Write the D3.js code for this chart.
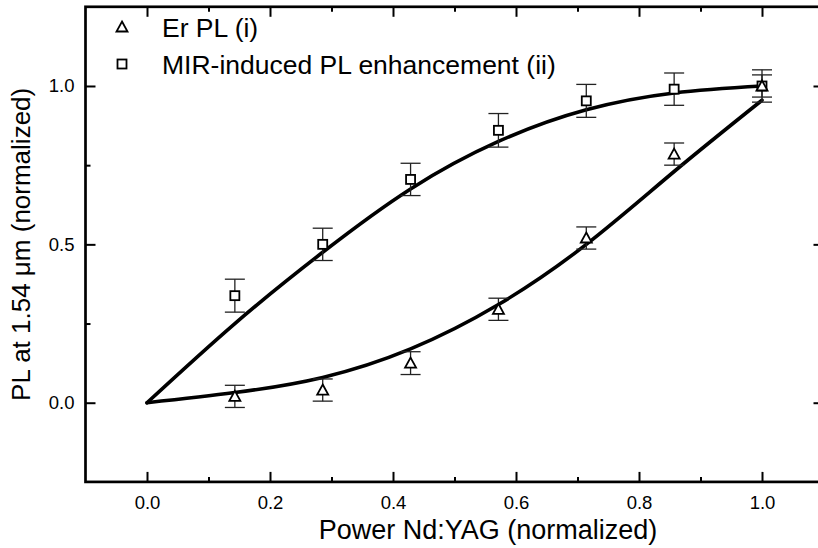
<!DOCTYPE html>
<html><head><meta charset="utf-8">
<script src="https://cdn.jsdelivr.net/npm/d3@7"></script>
<style>body{margin:0;background:#fff} svg text{font-family:"Liberation Sans",Arial,sans-serif;fill:#000}</style>
</head><body><svg id="c" width="818" height="548"></svg>
<script>
// ---- data ----
const powerX = [1/7, 2/7, 3/7, 4/7, 5/7, 6/7, 1.0];
const erPL = [0.02, 0.04, 0.125, 0.295, 0.52, 0.785, 1.0];
const erPLErr = [0.035, 0.035, 0.036, 0.035, 0.035, 0.035, 0.035];
const mirPL = [0.338, 0.50, 0.705, 0.86, 0.953, 0.99, 1.0];
const mirPLErr = [0.052, 0.051, 0.051, 0.053, 0.052, 0.051, 0.051];
const fitX = [0, 1/7, 2/7, 3/7, 4/7, 5/7, 6/7, 1.0];
const erFit = [0, 0.032, 0.08, 0.17, 0.31, 0.5, 0.73, 0.955];
const mirFit = [0, 0.25, 0.475, 0.675, 0.825, 0.925, 0.978, 1.0];
const xTicks = [0, 0.2, 0.4, 0.6, 0.8, 1.0];
const xMinorTicks = [0.1, 0.3, 0.5, 0.7, 0.9];
const yTicks = [0, 0.5, 1.0];
const yMinorTicks = [0.25, 0.75];
const legendLabels = ["Er PL (i)", "MIR-induced PL enhancement (ii)"];
const xTitle = "Power Nd:YAG (normalized)";
const yTitle = "PL at 1.54 \u03bcm (normalized)";

// ---- layout ----
const svg = d3.select("#c");
const L = 85.5, R = 823.5, T = 6.8, B = 481.9;
const x = d3.scaleLinear().domain([-0.1, 1.1]).range([L, R]);
const y = d3.scaleLinear().domain([-0.25, 1.25]).range([B, T]);
const fmt = d3.format(".1f");

function styleAxis(g){
  g.select(".domain").remove();
  g.selectAll("line").attr("stroke","#000").attr("stroke-width",2);
}
svg.append("g").attr("transform",`translate(0,${B})`)
  .call(d3.axisBottom(x).tickValues(xTicks).tickSize(-10).tickPadding(14).tickFormat(fmt))
  .call(styleAxis).call(g=>g.selectAll("text").attr("font-size",18.5));
svg.append("g").attr("transform",`translate(0,${B})`)
  .call(d3.axisBottom(x).tickValues(xMinorTicks).tickSize(-5).tickFormat(""))
  .call(styleAxis);
svg.append("g").attr("transform",`translate(0,${T})`)
  .call(d3.axisTop(x).tickValues(xTicks).tickSize(-10).tickFormat(""))
  .call(styleAxis);
svg.append("g").attr("transform",`translate(0,${T})`)
  .call(d3.axisTop(x).tickValues(xMinorTicks).tickSize(-5).tickFormat(""))
  .call(styleAxis);
svg.append("g").attr("transform",`translate(${L},0)`)
  .call(d3.axisLeft(y).tickValues(yTicks).tickSize(-10).tickPadding(11).tickFormat(fmt))
  .call(styleAxis).call(g=>g.selectAll("text").attr("font-size",18.5));
svg.append("g").attr("transform",`translate(${L},0)`)
  .call(d3.axisLeft(y).tickValues(yMinorTicks).tickSize(-5).tickFormat(""))
  .call(styleAxis);
svg.append("g").attr("transform",`translate(${R},0)`)
  .call(d3.axisRight(y).tickValues(yTicks).tickSize(-10).tickFormat(""))
  .call(styleAxis);
svg.append("g").attr("transform",`translate(${R},0)`)
  .call(d3.axisRight(y).tickValues(yMinorTicks).tickSize(-5).tickFormat(""))
  .call(styleAxis);

// frame
svg.append("rect").attr("x",L).attr("y",T).attr("width",R-L).attr("height",B-T)
  .attr("fill","none").attr("stroke","#000").attr("stroke-width",2.7);

// titles
svg.append("text").attr("x",488).attr("y",539).attr("text-anchor","middle")
  .attr("font-size",27).text(xTitle);
svg.append("text").attr("transform",`translate(30,${(T+B)/2}) rotate(-90)`)
  .attr("text-anchor","middle").attr("font-size",26).text(yTitle);

// fit curves
const line = d3.line().x(d=>x(d[0])).y(d=>y(d[1])).curve(d3.curveNatural);
[erFit, mirFit].forEach(f=>{
  svg.append("path").datum(fitX.map((v,i)=>[v,f[i]]))
    .attr("d",line).attr("fill","none").attr("stroke","#000")
    .attr("stroke-width",3.6).attr("stroke-linecap","round").attr("stroke-linejoin","round");
});

// error bars
function errBars(vals, errs){
  const g = svg.append("g").attr("stroke","#222").attr("stroke-width",1.3);
  powerX.forEach((px,i)=>{
    const cx = x(px), y1 = y(vals[i]+errs[i]), y2 = y(vals[i]-errs[i]);
    g.append("line").attr("x1",cx).attr("x2",cx).attr("y1",y1).attr("y2",y2);
    g.append("line").attr("x1",cx-10).attr("x2",cx+10).attr("y1",y1).attr("y2",y1);
    g.append("line").attr("x1",cx-10).attr("x2",cx+10).attr("y1",y2).attr("y2",y2);
  });
}
errBars(mirPL, mirPLErr);
errBars(erPL, erPLErr);

// markers
const triPath = (cx,cy)=>`M${cx},${cy-5.5}L${cx+5.5},${cy+4.5}L${cx-5.5},${cy+4.5}Z`;
function squares(vals){
  svg.append("g").selectAll("rect").data(vals).join("rect")
    .attr("x",(d,i)=>x(powerX[i])-4.5).attr("y",d=>y(d)-4.5)
    .attr("width",9).attr("height",9)
    .attr("fill","#fff").attr("stroke","#000").attr("stroke-width",1.8);
}
function triangles(vals){
  svg.append("g").selectAll("path").data(vals).join("path")
    .attr("d",(d,i)=>triPath(x(powerX[i]), y(d)))
    .attr("fill","#fff").attr("stroke","#000").attr("stroke-width",1.8);
}
squares(mirPL);
triangles(erPL);

// legend
const lg = svg.append("g");
lg.append("path").attr("d",triPath(122,27)).attr("fill","#fff").attr("stroke","#000").attr("stroke-width",1.8);
lg.append("rect").attr("x",117.5).attr("y",59.5).attr("width",9).attr("height",9)
  .attr("fill","#fff").attr("stroke","#000").attr("stroke-width",1.8);
lg.selectAll("text").data(legendLabels).join("text")
  .attr("x",162).attr("y",(d,i)=>37+i*37).attr("font-size",26.5).text(d=>d);
</script></body></html>
